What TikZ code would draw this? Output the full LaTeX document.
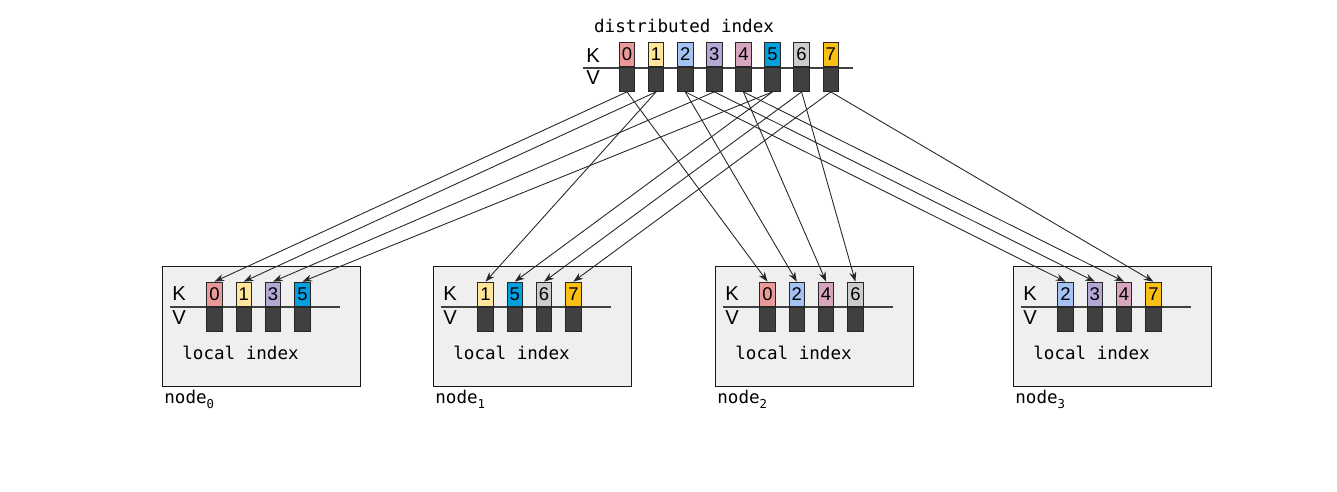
\documentclass[tikz,border=0pt]{standalone}
\usepackage{fontspec}
\setmainfont{Liberation Sans}
\setmonofont{DejaVu Sans Mono}
\usetikzlibrary{arrows.meta}

\definecolor{c0}{HTML}{EA9999}
\definecolor{c1}{HTML}{FFE599}
\definecolor{c2}{HTML}{A4C2F4}
\definecolor{c3}{HTML}{B4A7D6}
\definecolor{c4}{HTML}{D5A6BD}
\definecolor{c5}{HTML}{00A0DF}
\definecolor{c6}{HTML}{CCCCCC}
\definecolor{c7}{HTML}{F9BF12}
\definecolor{valcol}{HTML}{404040}
\definecolor{boxcol}{HTML}{EFEFEF}

\tikzset{
	keycell/.style={draw=black!85, line width=0.5pt, minimum width=0.31cm, minimum height=0.49cm, inner sep=0pt, anchor=south, font=\fontsize{10.5}{12}\selectfont},
	valcell/.style={draw=black!85, line width=0.5pt, fill=valcol, minimum width=0.31cm, minimum height=0.48cm, inner sep=0pt, anchor=north},
	localbox/.style={draw=black!90, line width=0.6pt, fill=boxcol, minimum width=3.96cm, minimum height=2.4cm, inner sep=0pt, anchor=north west},
	kvlabel/.style={inner sep=0pt, font=\fontsize{11.5}{12}\selectfont},
	link/.style={black!85, line width=0.5pt, -{Stealth[length=5.5pt,width=4pt]}},
}

\begin{document}
\begin{tikzpicture}[x=0.02cm, y=-0.02cm]
	\useasboundingbox (0,0) rectangle (1337,492);

	% distributed index
	\def\dx{627};
	\def\dstep{29.1};
	\def\dline{67};

	\node[font=\ttfamily, inner sep=0pt] (title) at (684,26) {distributed index};
	\draw[black!75, line width=0.6pt] (583,\dline+1) -- (853,\dline+1);
	\node[kvlabel] (dK) at (593,56) {K};
	\node[kvlabel] (dV) at (593,78) {V};

	\foreach \k in {0,...,7} {
		\node[keycell, fill=c\k] (d\k) at ({\dx+\dstep*\k},\dline) {\k};
		\node[valcell] (dv\k) at ({\dx+\dstep*\k},\dline) {};
	}

	% local indexes
	\def\ly{266};
	\def\lline{307};
	\def\lstep{29.3};

	\foreach \n/\bx/\keys in {0/162/{0,1,3,5}, 1/433/{1,5,6,7}, 2/715/{0,2,4,6}, 3/1013/{2,3,4,7}} {
		\node[localbox] (box\n) at (\bx,\ly) {};
		\draw[black!75, line width=0.6pt] (\bx+8,\lline) -- (\bx+178,\lline);
		\node[kvlabel] (K\n) at (\bx+17,294) {K};
		\node[kvlabel] (V\n) at (\bx+17,318) {V};
		\foreach \k [count=\i from 0] in \keys {
			\node[keycell, fill=c\k] (l\n\k) at ({\bx+52.5+\lstep*\i},\lline) {\k};
			\node[valcell] (lv\n\k) at ({\bx+52.5+\lstep*\i},\lline) {};
		}
		\node[font=\ttfamily, anchor=west, inner sep=0pt] (lbl\n) at (\bx+20,353) {local index};
		\node[font=\ttfamily, anchor=base west, inner sep=0pt] (name\n) at (\bx+2,404) {node\raisebox{-0.45ex}{\scriptsize\n}};
	}

	% key -> node
	\foreach \k/\n in {0/0, 0/2, 1/0, 1/1, 2/2, 2/3, 3/0, 3/3, 4/2, 4/3, 5/0, 5/1, 6/1, 6/2, 7/1, 7/3}
		\draw[link] (dv\k.south) -- (l\n\k.north);

\end{tikzpicture}
\end{document}
